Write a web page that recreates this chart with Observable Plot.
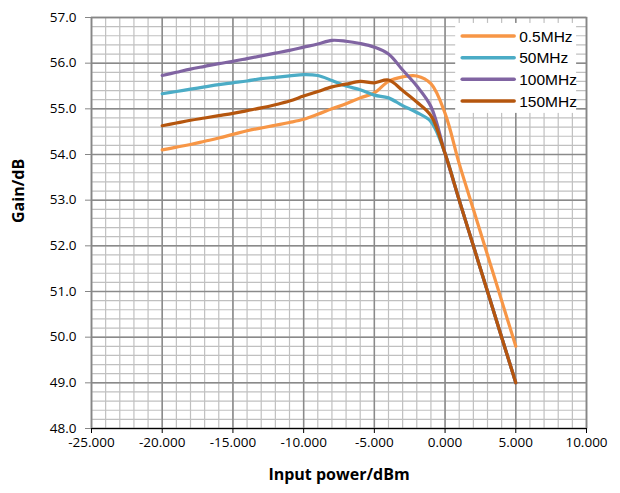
<!DOCTYPE html>
<html>
<head>
<meta charset="utf-8">
<script src="https://cdn.jsdelivr.net/npm/d3@7"></script>
<script src="https://cdn.jsdelivr.net/npm/@observablehq/plot@0.6"></script>
<style>
  html, body { margin: 0; padding: 0; background: #fff; }
  #chart { width: 620px; height: 493px; }
</style>
</head>
<body>
<div id="chart"></div>
<script>
const seriesNames = ["0.5MHz", "50MHz", "100MHz", "150MHz"];
const seriesColors = ["#F79646", "#4BACC6", "#8064A2", "#B5560E"];
const inputPower = [-20, -19, -18, -17, -16, -15, -14, -13, -12, -11, -10, -9, -8, -7, -6, -5, -4, -3, -2, -1, 0, 1, 2, 3, 4, 5];
const gain05  = [54.10, 54.16, 54.22, 54.29, 54.36, 54.44, 54.52, 54.58, 54.64, 54.70, 54.77, 54.88, 55.00, 55.11, 55.24, 55.35, 55.60, 55.70, 55.72, 55.55, 54.90, 53.80, 52.80, 51.80, 50.80, 49.80];
const gain50  = [55.33, 55.38, 55.43, 55.48, 55.53, 55.57, 55.61, 55.66, 55.69, 55.72, 55.75, 55.73, 55.62, 55.50, 55.42, 55.30, 55.24, 55.07, 54.92, 54.72, 54.02, 53.00, 52.00, 51.00, 50.00, 49.00];
const gain100 = [55.73, 55.80, 55.87, 55.93, 55.99, 56.04, 56.10, 56.16, 56.22, 56.28, 56.35, 56.42, 56.50, 56.48, 56.43, 56.35, 56.20, 55.85, 55.50, 55.05, 54.02, 53.00, 52.00, 51.00, 50.00, 49.00];
const gain150 = [54.63, 54.69, 54.75, 54.80, 54.85, 54.90, 54.96, 55.02, 55.09, 55.17, 55.28, 55.38, 55.48, 55.54, 55.60, 55.57, 55.63, 55.40, 55.15, 54.85, 54.02, 53.00, 52.00, 51.00, 50.00, 49.00];
const xTickValues = [-25, -20, -15, -10, -5, 0, 5, 10];
const yTickValues = [48, 49, 50, 51, 52, 53, 54, 55, 56, 57];

const allGains = [gain05, gain50, gain100, gain150];
const rows = [];
allGains.forEach((g, si) => {
  inputPower.forEach((x, i) => rows.push({x, y: g[i], series: seriesNames[si]}));
});

const minorX = d3.range(-25, 10.001, 1);
const minorY = d3.range(48, 57.001, 0.2);

const plot = Plot.plot({
  width: 620,
  height: 493,
  marginLeft: 91,
  marginRight: 34,
  marginTop: 17,
  marginBottom: 65,
  style: {fontFamily: "'Open Sans', sans-serif", fontSize: "13px", color: "#000", background: "#fff"},
  x: {domain: [-25, 10], label: null},
  y: {domain: [48, 57], label: null},
  color: {domain: seriesNames, range: seriesColors},
  marks: [
    Plot.ruleX(minorX, {stroke: "#c0c0c0", strokeWidth: 1.2}),
    Plot.ruleY(minorY, {stroke: "#c0c0c0", strokeWidth: 1.2}),
    Plot.ruleX(xTickValues, {stroke: "#8a8a8a", strokeWidth: 1.5}),
    Plot.ruleY(yTickValues, {stroke: "#8a8a8a", strokeWidth: 1.5}),
    Plot.frame({stroke: "#868686", strokeWidth: 1.5}),
    Plot.ruleY([48], {stroke: "#000", strokeWidth: 1.2}),
    Plot.line(rows, {x: "x", y: "y", z: "series", stroke: "series", strokeWidth: 3.2, curve: "catmull-rom"}),
    Plot.axisX({ticks: xTickValues, tickFormat: d => d.toFixed(3), tickSize: 5, tickPadding: 4, stroke: "#000", label: null, fontSize: 13.5}),
    Plot.axisY({ticks: yTickValues, tickFormat: d => d.toFixed(1), tickSize: 6, tickPadding: 9, stroke: "#868686", label: null, fontSize: 13.5}),
    Plot.text(["Input power/dBm"], {frameAnchor: "bottom", dy: 51, fontSize: 16, fontWeight: "bold"}),
    Plot.text(["Gain/dB"], {frameAnchor: "left", dx: -73, rotate: -90, fontSize: 16, fontWeight: "bold"})
  ]
});

document.getElementById("chart").appendChild(plot);

// Legend inside the plot (upper right), positioned from the scales
const svgSel = d3.select(plot);
const sx = plot.scale("x"), sy = plot.scale("y");
const legLeft = sx.apply(0.75), legTop = sy.apply(56.87);
const boxW = sx.apply(9.3) - legLeft, boxH = sy.apply(54.9) - legTop;
const lg = svgSel.append("g");
lg.append("rect").attr("x", legLeft).attr("y", legTop).attr("width", boxW).attr("height", boxH).attr("fill", "#fff");
seriesNames.forEach((name, i) => {
  const yy = legTop + 13 + i * 21.7;
  lg.append("line").attr("x1", legLeft + 7).attr("x2", legLeft + 59).attr("y1", yy).attr("y2", yy)
    .attr("stroke", seriesColors[i]).attr("stroke-width", 3.5).attr("stroke-linecap", "round");
  lg.append("text").attr("x", legLeft + 64).attr("y", yy).attr("dy", "0.36em")
    .attr("text-anchor", "start")
    .attr("font-family", "'Liberation Sans', Arial, sans-serif").attr("font-size", 15.5).attr("fill", "#000")
    .text(name);
});
</script>
</body>
</html>
